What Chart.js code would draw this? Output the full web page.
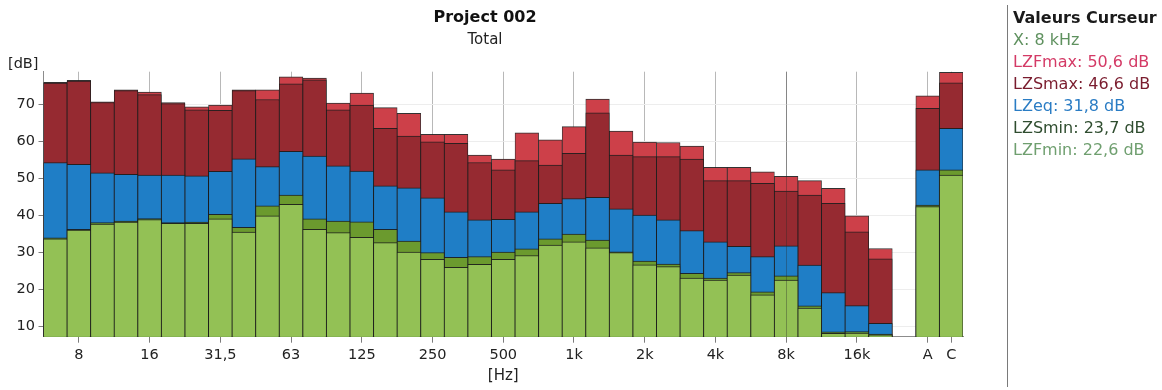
<!DOCTYPE html>
<html>
<head>
<meta charset="utf-8">
<title>Project 002 - Total</title>
<script src="https://cdn.jsdelivr.net/npm/chart.js@4.4.1/dist/chart.umd.min.js"></script>
<style>
  html, body { margin: 0; padding: 0; background: #fff; }
  #wrap { position: relative; width: 1162px; height: 390px; overflow: hidden; }
  #c { position: absolute; left: 0; top: 0; }
  #panel {
    position: absolute; left: 1007px; top: 5px; height: 380px;
    border-left: 1px solid #7a7a7a; padding-left: 5px; padding-top: 2px;
    font-family: "DejaVu Sans", Verdana, sans-serif; font-size: 16px; line-height: 22px;
    white-space: nowrap;
  }
  #panel .head { font-weight: bold; color: #1a1a1a; }
</style>
</head>
<body>
<div id="wrap">
  <canvas id="c" width="1162" height="390"></canvas>
  <div id="panel"></div>
</div>
<script>
// Third-octave bands 6.3 Hz - 20 kHz, then a spacer slot and the A / C totals
const bandLabels = ['6,3','8','10','12,5','16','20','25','31,5','40','50','63','80','100','125','160','200',
  '250','315','400','500','630','800','1k','1,25k','1,6k','2k','2,5k','3,15k','4k','5k','6,3k','8k',
  '10k','12,5k','16k','20k'];
const axisLabels = [...bandLabels, '', 'A', 'C'];
const shownTicks = ['8','16','31,5','63','125','250','500','1k','2k','4k','8k','16k','A','C'];
const yTicks = [10, 20, 30, 40, 50, 60, 70];

// Levels in dB (null = spacer slot)
const LZFmax = [75.9,76.5,70.7,73.9,73.3,70.5,69.3,69.8,73.9,73.9,77.4,77.1,70.3,73.0,69.1,67.6,
  61.9,61.9,56.3,55.2,62.3,60.4,64.0,71.4,62.8,59.8,59.7,58.7,53.0,53.0,51.8,50.6,
  49.4,47.3,39.9,31.1, null, 72.3,78.6];
const LZSmax = [75.7,76.3,70.5,73.7,72.6,70.2,68.5,68.4,73.7,71.3,75.5,76.6,68.5,69.8,63.5,61.4,
  59.9,59.5,54.3,52.3,54.8,53.6,56.8,67.7,56.3,55.9,55.9,55.2,49.4,49.4,48.7,46.6,
  45.5,43.3,35.6,28.3, null, 68.9,75.8];
const LZeq = [54.3,53.8,51.5,51.1,50.9,50.9,50.7,51.9,55.3,53.2,57.3,56.0,53.4,52.0,48.0,47.5,
  44.8,41.0,38.8,39.0,41.0,43.3,44.6,44.9,41.8,40.1,38.8,35.9,32.9,31.7,28.9,31.8,
  26.6,19.2,15.7,10.9, null, 52.3,63.5];
const LZSmin = [34.0,36.3,38.1,38.5,39.2,38.1,38.2,40.3,36.8,42.6,45.5,39.1,38.5,38.3,36.3,33.1,
  30.0,28.7,28.9,30.1,31.0,33.7,35.0,33.4,30.2,27.7,26.9,24.4,23.1,24.6,19.4,23.7,
  15.6,8.6,8.7,8.0, null, 42.8,52.3];
const LZFmin = [33.7,36.1,37.7,38.2,38.9,37.9,37.9,39.1,35.5,39.9,43.0,36.3,35.4,34.1,32.7,30.1,
  28.2,26.0,26.8,28.2,29.2,32.0,32.9,31.3,30.0,26.7,26.2,23.1,22.6,23.9,18.6,22.6,
  15.0,8.2,8.3,7.8, null, 42.4,50.9];

const cursorBand = '8k';
const cursorText = 'X: 8 kHz';

const FONT = '"DejaVu Sans", Verdana, sans-serif';
const colors = {
  LZFmax: '#cd4049', LZSmax: '#962a31', LZeq: '#1f7ec6', LZSmin: '#6b9a2e', LZFmin: '#93c155'
};
const textColors = {
  LZFmax: '#d43a66', LZSmax: '#7a1c2e', LZeq: '#2a7cc4', LZSmin: '#2f4d2f', LZFmin: '#6f9f6f'
};

// Front-most dataset first: Chart.js paints index 0 last
const series = [
  ['LZFmin', LZFmin], ['LZSmin', LZSmin], ['LZeq', LZeq], ['LZSmax', LZSmax], ['LZFmax', LZFmax]
];

const datasets = series.map(([name, data]) => ({
  label: name,
  data: data,
  backgroundColor: colors[name],
  borderColor: 'rgba(28,28,28,0.9)',
  borderWidth: { top: 1, left: 0.8, right: 0.8, bottom: 0 },
  borderSkipped: 'start',
  barPercentage: 1,
  categoryPercentage: 1
}));

const cursorIndex = axisLabels.indexOf(cursorBand);

// "[dB]" unit at the top of the value axis
const unitLabel = {
  id: 'unitLabel',
  afterDraw(chart) {
    const { ctx, chartArea } = chart;
    ctx.save();
    ctx.font = '14.5px ' + FONT;
    ctx.fillStyle = '#222';
    ctx.textAlign = 'left';
    ctx.textBaseline = 'middle';
    ctx.fillText('[dB]', chartArea.left - 35.5, chartArea.top - 7.7);
    ctx.restore();
  }
};

// Thin cursor line through the selected band
const cursorLine = {
  id: 'cursorLine',
  afterDatasetsDraw(chart) {
    const { ctx, chartArea, scales } = chart;
    const x = Math.round(scales.x.getPixelForValue(cursorIndex)) + 0.5;
    ctx.save();
    ctx.strokeStyle = 'rgba(40,40,40,0.35)';
    ctx.lineWidth = 1;
    ctx.beginPath();
    ctx.moveTo(x, chartArea.top);
    ctx.lineTo(x, chartArea.bottom);
    ctx.stroke();
    ctx.restore();
  }
};

new Chart(document.getElementById('c'), {
  type: 'bar',
  data: { labels: axisLabels, datasets: datasets },
  plugins: [unitLabel, cursorLine],
  options: {
    responsive: false,
    animation: false,
    layout: { padding: { left: 7, right: 199, top: 0, bottom: 0 } },
    plugins: {
      legend: { display: false },
      tooltip: { enabled: false },
      title: {
        display: true, text: 'Project 002', color: '#111',
        font: { family: FONT, size: 16, weight: 'bold', lineHeight: 1.2 },
        padding: { top: 8, bottom: 0 }
      },
      subtitle: {
        display: true, text: 'Total', color: '#222',
        font: { family: FONT, size: 15, lineHeight: 1.2 },
        padding: { top: 3.8, bottom: 22.7 }
      }
    },
    scales: {
      x: {
        stacked: true,
        offset: true,
        grid: { offset: false, color: '#b8b8b8', tickColor: '#7c7c7c', tickLength: 6, lineWidth: 1 },
        border: { color: '#8c8c8c' },
        ticks: { autoSkip: false, maxRotation: 0, padding: 4, color: '#222', font: { family: FONT, size: 14.5 } },
        title: {
          display: true, text: '[Hz]', color: '#222',
          font: { family: FONT, size: 15, lineHeight: 1.2 },
          padding: { top: 0, bottom: 5 }
        },
        afterBuildTicks(scale) {
          scale.ticks = shownTicks.map(l => ({ value: axisLabels.indexOf(l) }));
        },
        afterFit(scale) { scale.height = 53.3; }
      },
      y: {
        stacked: false,
        min: 7.3,
        max: 78.8,
        grid: { color: '#ededed', tickColor: '#7c7c7c', tickLength: 5 },
        border: { color: '#8c8c8c' },
        ticks: { padding: 3.5, color: '#222', font: { family: FONT, size: 14.5 } },
        afterBuildTicks(scale) {
          scale.ticks = yTicks.map(v => ({ value: v }));
        },
        afterFit(scale) { scale.width = 36.5; }
      }
    }
  }
});

// Cursor readout panel, values taken from the band under the cursor
const fmt = v => v.toFixed(1).replace('.', ',');
const panel = document.getElementById('panel');
const rows = [
  ['head', 'Valeurs Curseur', '#1a1a1a'],
  ['', cursorText, '#5f915f']
];
[['LZFmax', LZFmax], ['LZSmax', LZSmax], ['LZeq', LZeq], ['LZSmin', LZSmin], ['LZFmin', LZFmin]]
  .forEach(([name, data]) => rows.push(['', name + ': ' + fmt(data[cursorIndex]) + ' dB', textColors[name]]));
rows.forEach(([cls, text, color]) => {
  const d = document.createElement('div');
  if (cls) d.className = cls;
  d.style.color = color;
  d.textContent = text;
  panel.appendChild(d);
});
</script>
</body>
</html>
